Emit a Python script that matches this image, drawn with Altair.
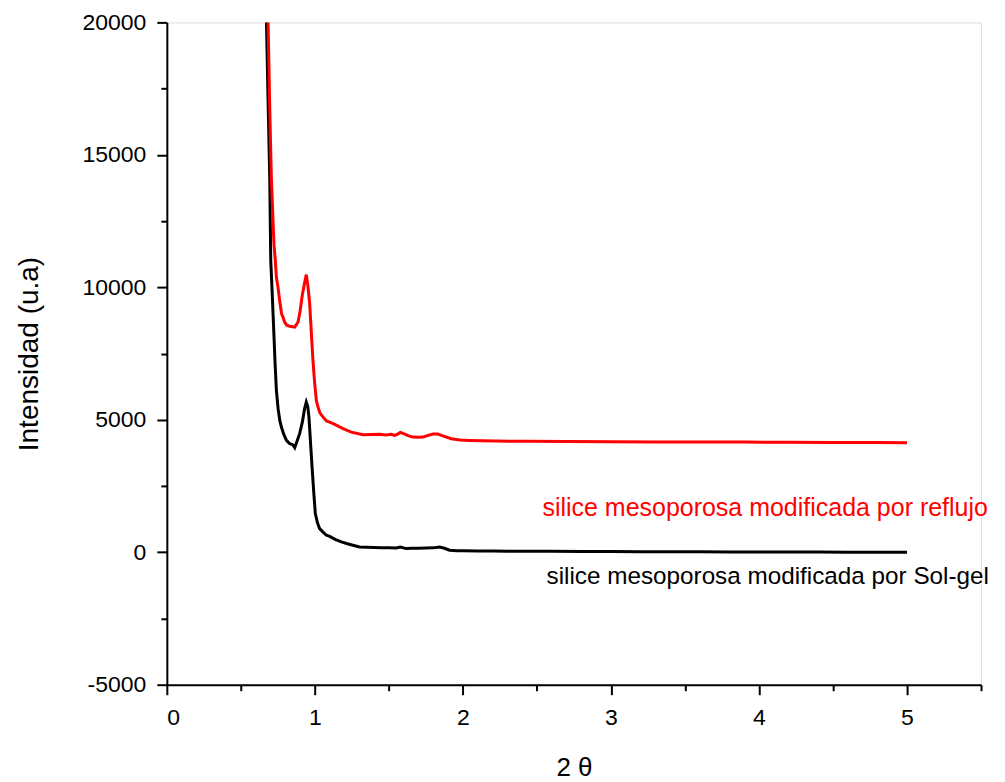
import altair as alt
import pandas as pd

# Sol-gel (black) series
sg_x = [0.665, 0.673, 0.684, 0.695, 0.702, 0.711, 0.722, 0.731, 0.740, 0.752, 0.764, 0.774, 0.790, 0.808,
        0.830, 0.850, 0.864, 0.880, 0.897, 0.915, 0.930, 0.942, 0.952, 0.960, 0.970, 0.981, 0.992, 1.003,
        1.018, 1.032, 1.055, 1.078, 1.100, 1.140, 1.179, 1.220, 1.257, 1.302, 1.350, 1.400, 1.450, 1.500,
        1.550, 1.577, 1.617, 1.660, 1.700, 1.750, 1.800, 1.842, 1.875, 1.910, 1.960, 2.000, 2.100, 2.200,
        2.300, 2.449, 2.600, 2.800, 3.000, 3.200, 3.400, 3.600, 3.800, 4.000, 4.200, 4.400, 4.600, 4.800, 5.000]
sg_y = [23000, 20000, 17000, 14150, 11010, 9880, 8400, 7150, 6110, 5400, 4950, 4724, 4450, 4222,
        4100, 4060, 3947, 4200, 4475, 4900, 5400, 5666, 5500, 5100, 4200, 3216, 2300, 1459,
        1100, 893, 760, 641, 600, 480, 388, 320, 264, 200, 185, 175, 170, 165,
        162, 200, 138, 150, 155, 160, 165, 200, 150, 75, 60, 55, 45, 50,
        40, 38, 35, 30, 25, 20, 20, 15, 10, 10, 5, 5, 0, 0, 0]

# Reflujo (red) series
rf_x = [0.676, 0.684, 0.695, 0.706, 0.716, 0.724, 0.733, 0.740, 0.751, 0.762, 0.775, 0.785, 0.796, 0.810,
        0.830, 0.850, 0.864, 0.876, 0.886, 0.900, 0.915, 0.930, 0.942, 0.953, 0.965, 0.976, 0.987, 0.999,
        1.010, 1.021, 1.035, 1.055, 1.080, 1.100, 1.134, 1.190, 1.246, 1.325, 1.380, 1.437, 1.480, 1.516,
        1.538, 1.560, 1.577, 1.600, 1.630, 1.662, 1.700, 1.730, 1.760, 1.797, 1.831, 1.860, 1.921, 1.980,
        2.045, 2.130, 2.225, 2.449, 2.700, 3.000, 3.300, 3.600, 3.900, 4.200, 4.500, 4.800, 5.000]
rf_y = [23000, 20000, 16800, 14150, 12700, 11600, 11010, 10380, 10000, 9500, 9000, 8870, 8682, 8570,
        8532, 8510, 8495, 8600, 8682, 9100, 9700, 10150, 10480, 10050, 9375, 8300, 7238, 6360,
        5730, 5478, 5250, 5100, 4950, 4912, 4826, 4663, 4535, 4437, 4440, 4449, 4430, 4449,
        4411, 4460, 4524, 4480, 4400, 4347, 4340, 4347, 4400, 4460, 4460, 4400, 4286, 4240,
        4222, 4205, 4196, 4185, 4180, 4175, 4165, 4160, 4160, 4150, 4145, 4140, 4135]

series_names = ["silice mesoporosa modificada por Sol-gel", "silice mesoporosa modificada por reflujo"]
series_colors = ["#000000", "#ff0000"]

label_x = [2.565, 2.537]
label_y = [-943, 1659]

x_major = [0, 1, 2, 3, 4, 5]
x_minor = [0.5, 1.5, 2.5, 3.5, 4.5, 5.5]
y_major = [-5000, 0, 5000, 10000, 15000, 20000]
y_minor = [-2500, 2500, 7500, 12500, 17500]

df = pd.concat([
    pd.DataFrame({"x": sg_x, "y": sg_y, "s": series_names[0]}),
    pd.DataFrame({"x": rf_x, "y": rf_y, "s": series_names[1]}),
])
lab_black = pd.DataFrame({"x": [label_x[0]], "y": [label_y[0]], "s": [series_names[0]]})
lab_red = pd.DataFrame({"x": [label_x[1]], "y": [label_y[1]], "s": [series_names[1]]})

FONT = "Liberation Sans"
xs = alt.Scale(domain=[0, 5.5], nice=False, zero=False)
ys = alt.Scale(domain=[-5000, 20000], nice=False, zero=False)
cs = alt.Scale(domain=series_names, range=series_colors)

lines = alt.Chart(df).mark_line(strokeWidth=3, clip=True).encode(
    x=alt.X("x:Q", scale=xs, axis=alt.Axis(
        values=x_major, orient="bottom", title="2 θ", grid=False, ticks=True, tickSize=10, tickWidth=2,
        domainWidth=2, domainColor="black", tickColor="black", labelFont=FONT, labelFontSize=23,
        labelColor="black", labelPadding=12, titleFont=FONT, titleFontSize=26, titleFontWeight="normal",
        titleColor="black", titlePadding=25, labelExpr="'' + datum.value")),
    y=alt.Y("y:Q", scale=ys, axis=alt.Axis(
        values=y_major, orient="left", title="Intensidad (u.a)", grid=False, ticks=True, tickSize=10, tickWidth=2,
        domainWidth=2, domainColor="black", tickColor="black", labelFont=FONT, labelFontSize=23,
        labelColor="black", labelPadding=11, titleFont=FONT, titleFontSize=28, titleFontWeight="normal",
        titleColor="black", titlePadding=39, labelExpr="'' + datum.value")),
    color=alt.Color("s:N", scale=cs, legend=None),
    order=alt.Order("x:Q"),
)

text_red = alt.Chart(lab_red).mark_text(align="left", baseline="middle", font=FONT, fontSize=25).encode(
    x=alt.X("x:Q", scale=xs, axis=alt.Axis(
        values=x_minor, orient="bottom", title=None, labels=False, domain=False, grid=False,
        tickSize=6, tickWidth=2, tickColor="black")),
    y=alt.Y("y:Q", scale=ys, axis=alt.Axis(
        values=y_minor, orient="left", title=None, labels=False, domain=False, grid=False,
        tickSize=6, tickWidth=2, tickColor="black")),
    text="s:N",
    color=alt.Color("s:N", scale=cs, legend=None),
)

text_black = alt.Chart(lab_black).mark_text(align="left", baseline="middle", font=FONT, fontSize=24.3).encode(
    x=alt.X("x:Q", scale=xs, axis=None),
    y=alt.Y("y:Q", scale=ys, axis=None),
    text="s:N",
    color=alt.Color("s:N", scale=cs, legend=None),
)

chart = alt.layer(lines, text_red, text_black).resolve_axis(x="independent", y="independent").properties(
    width=815, height=663,
    autosize=alt.AutoSizeParams(type="none"),
    padding={"left": 159, "top": 14, "right": 16, "bottom": 96},
).configure_view(stroke=None).configure(background="white")

chart.save("out.html", embed_options={"renderer": "svg", "actions": False})
